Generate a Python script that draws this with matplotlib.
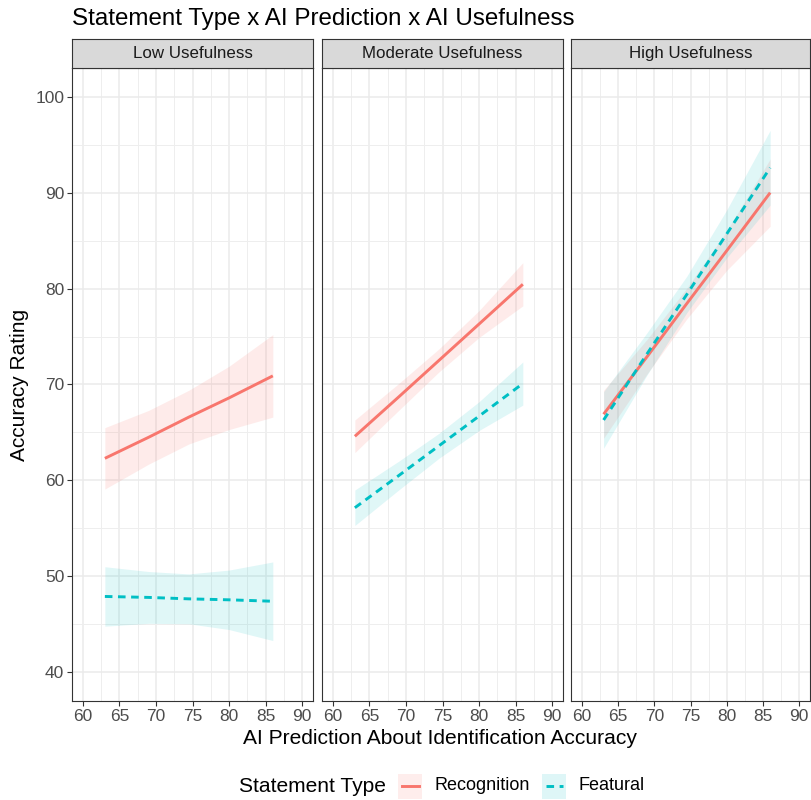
import numpy as np
import matplotlib
matplotlib.use("Agg")
import matplotlib.pyplot as plt
from matplotlib.patches import Rectangle
from matplotlib.lines import Line2D

plt.rcParams['font.family'] = ['Liberation Sans', 'DejaVu Sans']

# data
panels = ['Low Usefulness', 'Moderate Usefulness', 'High Usefulness']
series = ['Recognition', 'Featural']
x = [63, 69, 74.5, 80, 86]

rec_fit = [[62.3, 64.5, 66.6, 68.6, 70.9],
           [64.6, 68.7, 72.5, 76.3, 80.45],
           [66.9, 72.9, 78.45, 83.95, 90.0]]
rec_lo = [[59.1, 61.7, 63.8, 65.3, 66.6],
          [62.9, 67.3, 71.3, 74.9, 78.2],
          [64.4, 71.1, 76.85, 81.9, 86.5]]
rec_hi = [[65.5, 67.3, 69.4, 71.9, 75.2],
          [66.3, 70.1, 73.7, 77.7, 82.7],
          [69.4, 74.7, 80.05, 86.0, 93.5]]

feat_fit = [[47.9, 47.8, 47.65, 47.55, 47.4],
            [57.15, 60.5, 63.6, 66.7, 70.1],
            [66.3, 73.2, 79.4, 85.7, 92.6]]
feat_lo = [[44.8, 45.1, 45.05, 44.45, 43.3],
           [55.3, 59.0, 62.3, 65.2, 67.85],
           [63.35, 71.0, 77.5, 83.2, 88.7]]
feat_hi = [[51.0, 50.5, 50.25, 50.65, 51.5],
           [59.0, 62.0, 64.9, 68.2, 72.35],
           [69.25, 75.4, 81.3, 88.2, 96.5]]

red = '#F8766D'
cyan = '#00BFC4'
W, H = 811, 800
LW = 2.1
DASH = (2.6, 1.9)

fig = plt.figure(figsize=(W / 100, H / 100), dpi=100)

lefts = [72, 322, 571]
widths = [241, 241, 239]
top, bottom = 68, 701
strip_top = 39

for i, name in enumerate(panels):
    ax = fig.add_axes([lefts[i] / W, 1 - bottom / H, widths[i] / W, (bottom - top) / H])
    ax.fill_between(x, rec_lo[i], rec_hi[i], color=red, alpha=0.14, lw=0)
    ax.fill_between(x, feat_lo[i], feat_hi[i], color=cyan, alpha=0.12, lw=0)
    ax.plot(x, rec_fit[i], color=red, lw=LW, solid_capstyle='butt')
    ax.plot(x, feat_fit[i], color=cyan, lw=LW, dashes=DASH)

    ax.set_xlim(58.5, 91.5)
    ax.set_ylim(37, 103)
    ax.set_xticks(np.arange(60, 91, 5))
    ax.set_xticks(np.arange(62.5, 90, 5), minor=True)
    ax.set_yticks(np.arange(40, 101, 10))
    ax.set_yticks(np.arange(45, 100, 10), minor=True)
    ax.grid(True, which='major', color='#EBEBEB', lw=1.1)
    ax.grid(True, which='minor', color='#EEEEEE', lw=0.7)
    ax.set_axisbelow(True)
    for s in ax.spines.values():
        s.set_color('#333333')
        s.set_linewidth(0.8)
    ax.tick_params(which='major', length=3.5, color='#333333', width=0.8,
                   labelsize=12.5, labelcolor='#4D4D4D', pad=2)
    ax.tick_params(which='minor', length=0)
    if i > 0:
        ax.tick_params(axis='y', left=False, labelleft=False)

    # facet strip
    sax = fig.add_axes([lefts[i] / W, 1 - top / H, widths[i] / W, (top - strip_top) / H])
    sax.set_facecolor('#D9D9D9')
    sax.set_xticks([])
    sax.set_yticks([])
    for s in sax.spines.values():
        s.set_color('#333333')
        s.set_linewidth(0.8)
    sax.text(0.5, 0.5, name, ha='center', va='center', fontsize=12.2,
             color='#1A1A1A', transform=sax.transAxes)

fig.text(72 / W, 1 - 25 / H, 'Statement Type x AI Prediction x AI Usefulness',
         fontsize=17.4, ha='left', va='baseline')
fig.text(440 / W, 1 - 738 / H, 'AI Prediction About Identification Accuracy',
         fontsize=15.1, ha='center', va='center')
fig.text(20 / W, 1 - 385 / H, 'Accuracy Rating', fontsize=15,
         rotation=90, ha='center', va='center')

# legend at the bottom, drawn like ggplot keys
ly = 786
fig.text(386 / W, 1 - ly / H, 'Statement Type', fontsize=15.1,
         ha='right', va='center')
keys = [(398, red, None), (542, cyan, DASH)]
text_x = [435, 579]
for (kx, col, dash), lab, tx in zip(keys, series, text_x):
    fig.add_artist(Rectangle((kx / W, 1 - (ly + 12.5) / H), 24 / W, 25 / H,
                             transform=fig.transFigure, facecolor=col,
                             alpha=0.13, lw=0))
    ln = Line2D([(kx + 3.5) / W, (kx + 20.5) / W], [1 - ly / H, 1 - ly / H],
                transform=fig.transFigure, color=col, lw=LW)
    if dash:
        ln.set_dashes(dash)
    fig.add_artist(ln)
    fig.text(tx / W, 1 - ly / H, lab, fontsize=13, ha='left', va='center')

fig.savefig('out.png', dpi=100)
